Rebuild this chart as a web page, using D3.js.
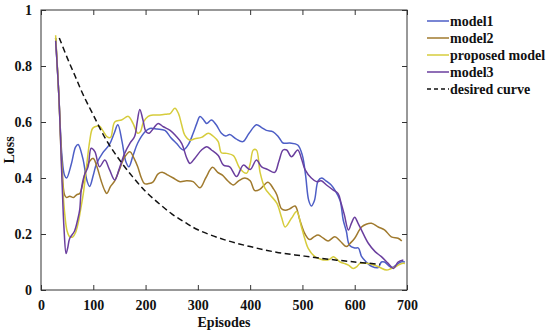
<!DOCTYPE html>
<html>
<head>
  <meta charset="UTF-8">
  <title>Loss vs Episodes</title>
  <style>
    body { margin: 0; background: #fff; }
    text { font-family: "Liberation Serif", "Times New Roman", serif; font-weight: bold; fill: #111; }
    .axis line { stroke: #333; }
    .axis path { display: none; }
  </style>
</head>
<body>
  <svg id="chart"></svg>
  <script src="https://d3js.org/d3.v7.min.js"></script>
  <script>
    // 数据：[episode, loss]
    var model1 = [[28,0.90],[34,0.70],[40,0.48],[45,0.41],[49,0.40],[58,0.45],[66,0.51],[71,0.52],[80,0.47],[88,0.39],[93,0.37],[100,0.41],[106,0.45],[118,0.49],[131,0.52],[140,0.56],[147,0.59],[155,0.53],[162,0.46],[168,0.44],[176,0.48],[185,0.525],[199,0.565],[208,0.577],[222,0.575],[237,0.57],[248,0.545],[259,0.524],[272,0.50],[282,0.52],[291,0.56],[298,0.595],[304,0.62],[310,0.61],[317,0.595],[326,0.607],[335,0.59],[345,0.56],[353,0.55],[361,0.555],[373,0.54],[386,0.53],[398,0.56],[412,0.59],[422,0.58],[431,0.57],[444,0.565],[455,0.545],[463,0.525],[476,0.525],[491,0.518],[500,0.48],[506,0.41],[512,0.32],[517,0.30],[523,0.32],[530,0.39],[537,0.40],[545,0.39],[555,0.375],[562,0.357],[572,0.32],[578,0.25],[584,0.21],[590,0.16],[600,0.15],[607,0.15],[613,0.12],[622,0.10],[632,0.085],[645,0.08],[651,0.10],[657,0.10],[670,0.08],[680,0.09],[688,0.10],[696,0.10]];

    var model2 = [[28,0.90],[34,0.70],[40,0.45],[45,0.34],[49,0.33],[55,0.335],[62,0.33],[68,0.34],[74,0.345],[80,0.38],[86,0.43],[93,0.46],[100,0.47],[107,0.44],[115,0.39],[122,0.355],[126,0.345],[133,0.37],[141,0.39],[150,0.43],[160,0.475],[170,0.494],[178,0.47],[185,0.44],[192,0.40],[198,0.38],[206,0.38],[214,0.385],[224,0.415],[233,0.42],[243,0.41],[253,0.40],[266,0.387],[278,0.39],[291,0.387],[304,0.365],[315,0.40],[328,0.438],[338,0.42],[347,0.41],[357,0.39],[368,0.375],[378,0.39],[390,0.40],[400,0.39],[409,0.355],[419,0.36],[434,0.385],[445,0.36],[451,0.34],[460,0.29],[467,0.285],[476,0.29],[486,0.30],[495,0.25],[505,0.20],[514,0.18],[522,0.19],[530,0.196],[540,0.185],[549,0.175],[562,0.19],[572,0.175],[584,0.155],[593,0.17],[600,0.185],[613,0.225],[622,0.235],[632,0.238],[645,0.225],[657,0.215],[670,0.19],[683,0.185],[690,0.175]];

    var proposed = [[28,0.91],[34,0.70],[40,0.42],[45,0.28],[50,0.21],[55,0.19],[61,0.19],[66,0.205],[71,0.238],[76,0.29],[81,0.345],[87,0.44],[93,0.53],[98,0.575],[103,0.583],[112,0.585],[118,0.57],[126,0.548],[133,0.545],[141,0.60],[154,0.607],[167,0.62],[176,0.595],[185,0.56],[190,0.565],[196,0.60],[205,0.62],[215,0.625],[227,0.625],[240,0.628],[247,0.63],[256,0.649],[263,0.63],[269,0.59],[275,0.553],[285,0.535],[294,0.54],[307,0.545],[320,0.56],[329,0.55],[339,0.53],[345,0.49],[355,0.488],[368,0.48],[380,0.435],[393,0.417],[400,0.45],[406,0.50],[412,0.50],[419,0.42],[428,0.365],[438,0.34],[451,0.31],[460,0.26],[467,0.225],[479,0.256],[489,0.28],[498,0.226],[505,0.18],[511,0.149],[524,0.119],[535,0.11],[543,0.107],[552,0.11],[559,0.119],[572,0.10],[580,0.095],[588,0.089],[597,0.077],[605,0.085],[610,0.095],[626,0.095],[645,0.083],[661,0.071],[670,0.077],[680,0.085],[690,0.095],[696,0.095]];

    var model3 = [[28,0.89],[34,0.70],[40,0.40],[44,0.22],[48,0.13],[51,0.15],[55,0.185],[64,0.21],[70,0.25],[74,0.286],[77,0.357],[83,0.41],[90,0.44],[96,0.506],[103,0.494],[112,0.44],[122,0.464],[131,0.43],[141,0.393],[150,0.435],[160,0.488],[170,0.524],[179,0.548],[184,0.60],[189,0.645],[195,0.607],[201,0.565],[207,0.56],[215,0.577],[224,0.595],[234,0.583],[247,0.57],[258,0.55],[269,0.524],[279,0.47],[285,0.452],[294,0.47],[307,0.50],[317,0.512],[326,0.50],[339,0.48],[349,0.446],[361,0.44],[374,0.405],[387,0.446],[400,0.43],[412,0.464],[422,0.44],[434,0.43],[447,0.42],[455,0.46],[463,0.50],[470,0.50],[479,0.476],[491,0.50],[498,0.47],[505,0.43],[517,0.40],[527,0.387],[536,0.39],[546,0.375],[559,0.357],[568,0.345],[574,0.31],[580,0.27],[588,0.214],[594,0.24],[600,0.26],[606,0.24],[613,0.214],[626,0.167],[639,0.137],[651,0.119],[664,0.095],[674,0.077],[683,0.10],[693,0.107]];

    var desired = [[35,0.90],[50,0.83],[65,0.765],[80,0.70],[100,0.625],[125,0.535],[150,0.465],[175,0.405],[200,0.352],[225,0.31],[250,0.272],[275,0.242],[300,0.215],[350,0.18],[400,0.155],[450,0.135],[500,0.122],[550,0.11],[600,0.10],[648,0.092]];

    var seriesNames = ["model1", "model2", "proposed model", "model3", "desired curve"];
    var xTicks = [0, 100, 200, 300, 400, 500, 600, 700];
    var yTicks = [0, 0.2, 0.4, 0.6, 0.8, 1];

    var series = [
      {name: seriesNames[0], values: model1, color: "#4d5ec6", dash: null},
      {name: seriesNames[1], values: model2, color: "#a07a2e", dash: null},
      {name: seriesNames[2], values: proposed, color: "#d6cc3c", dash: null},
      {name: seriesNames[3], values: model3, color: "#6a3e9e", dash: null},
      {name: seriesNames[4], values: desired, color: "#111", dash: "6,3.5"}
    ];

    // 画布（注意：不能用全局变量名 top）
    var W = 550, H = 334;
    var pLeft = 41, pRight = 407, pTop = 10, pBottom = 290;

    var svg = d3.select("#chart")
      .attr("width", W)
      .attr("height", H);

    var x = d3.scaleLinear().domain([0, 700]).range([pLeft, pRight]);
    var y = d3.scaleLinear().domain([0, 1]).range([pBottom, pTop]);

    // 坐标轴（刻度朝内，四边都有）
    svg.append("g").attr("class", "axis")
      .attr("transform", "translate(0," + pBottom + ")")
      .call(d3.axisBottom(x).tickValues(xTicks).tickSizeInner(-5).tickSizeOuter(0).tickPadding(10))
      .selectAll("text").style("font-size", "14px");

    svg.append("g").attr("class", "axis")
      .attr("transform", "translate(0," + pTop + ")")
      .call(d3.axisTop(x).tickValues(xTicks).tickSizeInner(-5).tickSizeOuter(0).tickFormat(""));

    svg.append("g").attr("class", "axis")
      .attr("transform", "translate(" + pLeft + ",0)")
      .call(d3.axisLeft(y).tickValues(yTicks).tickSizeInner(-5).tickSizeOuter(0).tickPadding(9)
        .tickFormat(function(d) { return d3.format("~g")(d); }))
      .selectAll("text").style("font-size", "14px");

    svg.append("g").attr("class", "axis")
      .attr("transform", "translate(" + pRight + ",0)")
      .call(d3.axisRight(y).tickValues(yTicks).tickSizeInner(-5).tickSizeOuter(0).tickFormat(""));

    // 边框
    svg.append("rect")
      .attr("x", pLeft).attr("y", pTop)
      .attr("width", pRight - pLeft).attr("height", pBottom - pTop)
      .attr("fill", "none").attr("stroke", "#333").attr("stroke-width", 1);

    // 曲线
    var line = d3.line()
      .x(function(d) { return x(d[0]); })
      .y(function(d) { return y(d[1]); })
      .curve(d3.curveCatmullRom.alpha(0.5));

    svg.selectAll(".series")
      .data(series)
      .enter().append("path")
      .attr("class", "series")
      .attr("d", function(d) { return line(d.values); })
      .attr("fill", "none")
      .attr("stroke", function(d) { return d.color; })
      .attr("stroke-width", 1.5)
      .attr("stroke-dasharray", function(d) { return d.dash; });

    // 轴标题
    svg.append("text")
      .attr("x", (pLeft + pRight) / 2)
      .attr("y", 327)
      .style("text-anchor", "middle")
      .style("font-size", "14px")
      .text("Episodes");

    svg.append("text")
      .attr("transform", "translate(14," + ((pTop + pBottom) / 2) + ") rotate(-90)")
      .style("text-anchor", "middle")
      .style("font-size", "14px")
      .text("Loss");

    // 图例
    var legend = svg.selectAll(".legend")
      .data(series)
      .enter().append("g")
      .attr("class", "legend")
      .attr("transform", function(d, i) { return "translate(427," + (21 + i * 17) + ")"; });

    legend.append("line")
      .attr("x1", 0).attr("x2", 22)
      .attr("stroke", function(d) { return d.color; })
      .attr("stroke-width", 1.5)
      .attr("stroke-dasharray", function(d) { return d.dash ? "4,3" : null; });

    legend.append("text")
      .attr("x", 23)
      .attr("y", 5)
      .style("font-size", "14px")
      .text(function(d) { return d.name; });
  </script>
</body>
</html>
